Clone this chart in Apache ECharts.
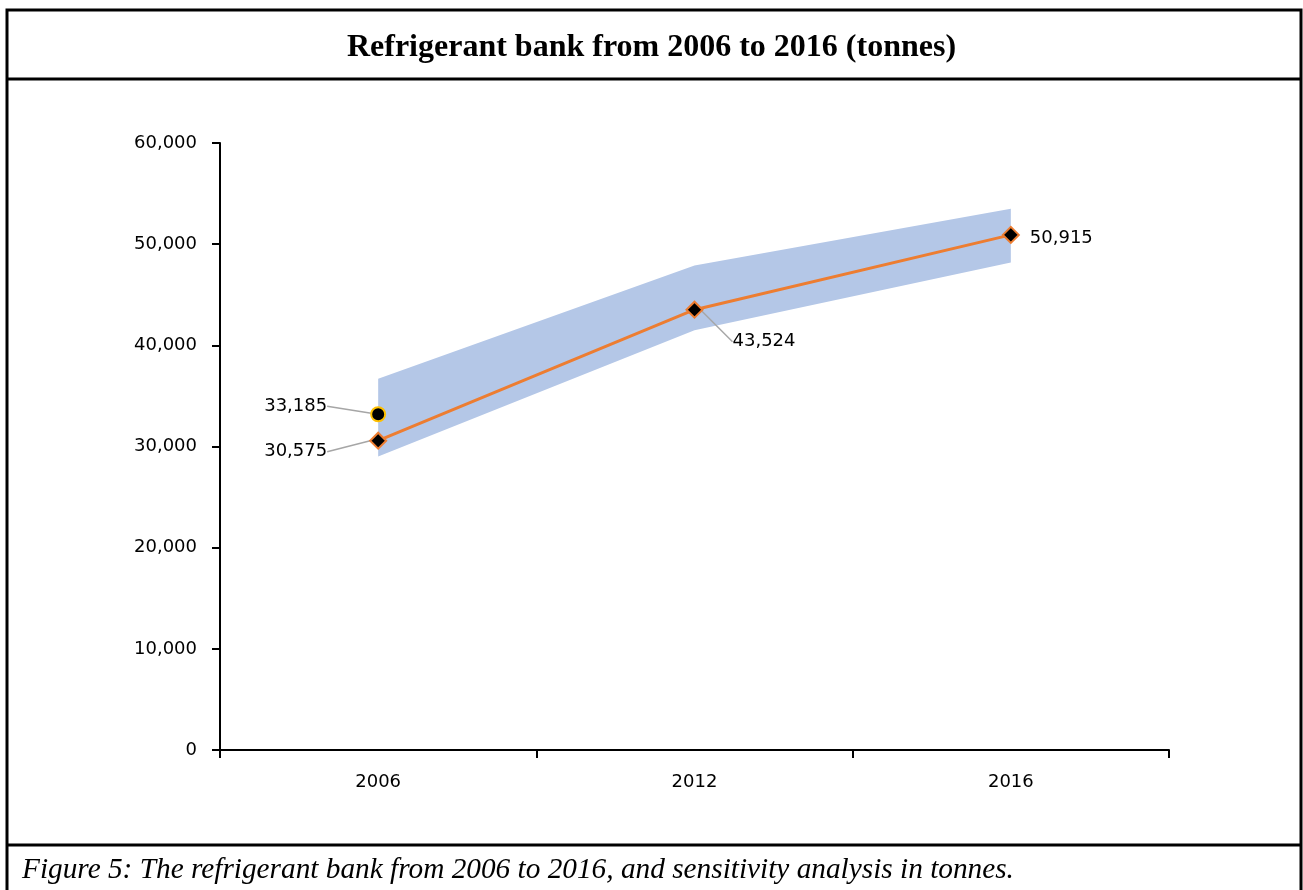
<!DOCTYPE html>
<html>
<head>
<meta charset="utf-8">
<script src="https://cdn.jsdelivr.net/npm/echarts@6/dist/echarts.min.js"></script>
<style>
html,body{margin:0;padding:0;background:#fff;}
#chart{width:1303px;height:890px;}
</style>
</head>
<body>
<div id="chart"></div>
<script>
const titleText = 'Refrigerant bank from 2006 to 2016 (tonnes)';
const captionText = 'Figure 5: The refrigerant bank from 2006 to 2016, and sensitivity analysis in tonnes.';
const categories = ['2006', '2012', '2016'];
const bankValues = [30575, 43524, 50915];
const altValues = [33185, null, null];
const lowerBound = [29000, 41500, 48200];
const upperBound = [36700, 47900, 53500];
const yTicks = [0, 10000, 20000, 30000, 40000, 50000, 60000];

const bandRange = upperBound.map((u, i) => u - lowerBound[i]);
const fmt = v => v.toLocaleString('en-US');

const chart = echarts.init(document.getElementById('chart'));

const labelFont = { fontFamily: 'DejaVu Sans', fontSize: 18, color: '#000' };
const leaderStyle = { color: '#A6A6A6', width: 1.5 };

const bankData = bankValues.map((v, i) => ({
  value: v,
  label: i === 0 ? { position: 'left', distance: 10 } : {},
  labelLine: { show: i < 2 }
}));

const option = {
  animation: false,
  backgroundColor: '#fff',
  title: {
    text: titleText,
    left: 'center',
    top: 27,
    textStyle: { fontFamily: 'Liberation Serif', fontWeight: 'bold', fontSize: 32, color: '#000' }
  },
  graphic: [
    { type: 'rect', shape: { x: 7, y: 10, width: 1294, height: 900 }, style: { fill: 'none', stroke: '#000', lineWidth: 3 }, silent: true },
    { type: 'line', shape: { x1: 7, y1: 79, x2: 1301, y2: 79 }, style: { stroke: '#000', lineWidth: 3 }, silent: true },
    { type: 'line', shape: { x1: 7, y1: 845, x2: 1301, y2: 845 }, style: { stroke: '#000', lineWidth: 3 }, silent: true },
    { type: 'text', left: 22, top: 856, style: { text: captionText, font: 'italic 29.3px "Liberation Serif"', fill: '#000' }, silent: true }
  ],
  grid: { left: 220, right: 134, top: 143, bottom: 140, containLabel: false },
  xAxis: {
    type: 'category',
    data: categories,
    boundaryGap: true,
    axisLine: { lineStyle: { color: '#000', width: 2 } },
    axisTick: { show: true, alignWithLabel: false, length: 8, lineStyle: { color: '#000', width: 2 } },
    axisLabel: { fontFamily: 'DejaVu Sans', fontSize: 18, color: '#000', margin: 23 },
    splitLine: { show: false }
  },
  yAxis: {
    type: 'value',
    min: yTicks[0],
    max: yTicks[yTicks.length - 1],
    interval: yTicks[1] - yTicks[0],
    axisLine: { show: true, lineStyle: { color: '#000', width: 2 } },
    axisTick: { show: true, length: 8, lineStyle: { color: '#000', width: 2 } },
    axisLabel: { fontFamily: 'DejaVu Sans', fontSize: 18, color: '#000', margin: 23, formatter: fmt },
    splitLine: { show: false }
  },
  series: [
    {
      name: 'lower',
      type: 'line',
      stack: 'band',
      data: lowerBound,
      symbol: 'none',
      lineStyle: { opacity: 0 },
      silent: true,
      z: 1
    },
    {
      name: 'range',
      type: 'line',
      stack: 'band',
      data: bandRange,
      symbol: 'none',
      lineStyle: { opacity: 0 },
      areaStyle: { color: '#B4C7E7', opacity: 1 },
      silent: true,
      z: 1
    },
    {
      name: 'bank',
      type: 'line',
      data: bankData,
      symbol: 'diamond',
      symbolSize: 16,
      lineStyle: { color: '#ED7D31', width: 3 },
      itemStyle: { color: '#000', borderColor: '#ED7D31', borderWidth: 2 },
      label: {
        show: true,
        position: 'right',
        distance: 12,
        formatter: p => fmt(p.value),
        ...labelFont
      },
      labelLine: { show: true, lineStyle: leaderStyle },
      labelLayout: p => {
        if (p.dataIndex === 0) return { dx: -32, dy: 11 };
        if (p.dataIndex === 1) return { dx: 17, dy: 32 };
        return { dx: -2, dy: 3 };
      },
      z: 5
    },
    {
      name: 'alt',
      type: 'line',
      data: altValues,
      symbol: 'circle',
      symbolSize: 14,
      lineStyle: { opacity: 0 },
      itemStyle: { color: '#000', borderColor: '#FFC000', borderWidth: 2 },
      label: {
        show: true,
        position: 'left',
        distance: 10,
        formatter: p => fmt(p.value),
        ...labelFont
      },
      labelLine: { show: true, lineStyle: leaderStyle },
      labelLayout: p => ({ dx: -33, dy: -8 }),
      z: 6
    }
  ]
};

chart.setOption(option);
</script>
</body>
</html>
